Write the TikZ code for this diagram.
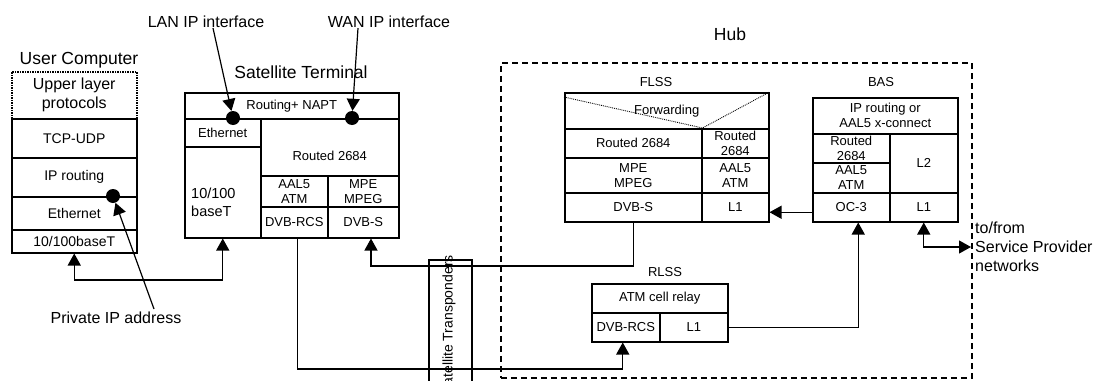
\documentclass[tikz,border=0pt]{standalone}
\usepackage{fontspec}
\setmainfont{Liberation Sans}
\usetikzlibrary{arrows.meta,positioning}

\begin{document}
\begin{tikzpicture}[
  x=1pt,y=-1pt,
  cell/.style={draw,line width=1.5pt,anchor=north west,inner sep=0pt,align=center,font=\fontsize{13}{15}\selectfont},
  big/.style={inner sep=0pt,font=\fontsize{17.5}{20}\selectfont},
  mid/.style={inner sep=0pt,align=left,font=\fontsize{16}{19}\selectfont},
  sml/.style={inner sep=0pt,font=\fontsize{13}{15}\selectfont},
  dot/.style={circle,fill,inner sep=0pt,minimum size=14pt},
  arr/.style={line width=1.2pt,-{Triangle[length=12pt,width=13pt]}},
  arrs/.style={line width=1.2pt,{Triangle[length=12pt,width=13pt]}-{Triangle[length=12pt,width=13pt]}}
]
\useasboundingbox (0,0) rectangle (1105,380);
\clip (0,0) rectangle (1105,380);

% User Computer
\node[big] (uclbl) at (79,60) {User Computer};
\node[cell,densely dotted,minimum width=125pt,minimum height=47pt,font=\fontsize{16}{19}\selectfont] (ucup) at (11,71) {Upper layer\\protocols};
\node[cell,minimum width=125pt,minimum height=39pt,font=\fontsize{14}{16}\selectfont] (uctcp) at (11,118) {TCP-UDP};
\node[cell,minimum width=125pt,minimum height=39pt,font=\fontsize{14}{16}\selectfont] (ucip) at (11,157) {IP routing};
\node[cell,minimum width=125pt,minimum height=33pt,font=\fontsize{14}{16}\selectfont] (uceth) at (11,196) {Ethernet};
\node[cell,minimum width=125pt,minimum height=23pt,font=\fontsize{14}{16}\selectfont] (ucbase) at (11,229) {10/100baseT};
\node[dot] (ucdot) at (113,196) {};

% Satellite Terminal
\node[big] (stlbl) at (301,72) {Satellite Terminal};
\node[cell,minimum width=214pt,minimum height=26pt] (stnapt) at (184,92) {Routing+ NAPT};
\node[cell,minimum width=76pt,minimum height=28pt] (steth) at (184,118) {Ethernet};
\node[cell,minimum width=76pt,minimum height=91pt] (stbase) at (184,146) {};
\node[mid,font=\fontsize{14.5}{18}\selectfont,anchor=west] (stbasetxt) at (191,202) {10/100\\baseT};
\node[cell,minimum width=138pt,minimum height=57pt,text height=26pt] (strt) at (260,118) {Routed 2684};
\node[cell,minimum width=67pt,minimum height=31pt] (staal) at (260,175) {AAL5\\ATM};
\node[cell,minimum width=71pt,minimum height=31pt] (stmpe) at (327,175) {MPE\\MPEG};
\node[cell,minimum width=67pt,minimum height=31pt] (strcs) at (260,206) {DVB-RCS};
\node[cell,minimum width=71pt,minimum height=31pt] (stdvbs) at (327,206) {DVB-S};
\node[dot] (landot) at (233,118) {};
\node[dot] (wandot) at (352,118) {};

% interface labels
\node[mid] (lanlbl) at (206,22) {LAN IP interface};
\node[mid] (wanlbl) at (389,22) {WAN IP interface};
\node[mid] (privlbl) at (116,318) {Private IP address};
\coordinate (privtail) at (154,309);

% Hub
\node[big] (hublbl) at (730,34) {Hub};
\node[draw,line width=1.7pt,dash pattern=on 6pt off 4pt,anchor=north west,minimum width=471pt,minimum height=315pt] (hub) at (500,62) {};

% FLSS
\node[sml] (fllbl) at (656,82) {FLSS};
\node[cell,minimum width=204pt,minimum height=36pt] (flfwd) at (564,92) {Forwarding};
\node[cell,minimum width=137pt,minimum height=29pt] (flrta) at (564,128) {Routed 2684};
\node[cell,minimum width=67pt,minimum height=29pt] (flrtb) at (701,128) {Routed\\2684};
\node[cell,minimum width=137pt,minimum height=35pt] (flmpe) at (564,157) {MPE\\MPEG};
\node[cell,minimum width=67pt,minimum height=35pt] (flaal) at (701,157) {AAL5\\ATM};
\node[cell,minimum width=137pt,minimum height=29pt] (fldvbs) at (564,192) {DVB-S};
\node[cell,minimum width=67pt,minimum height=29pt] (fll1) at (701,192) {L1};
\draw[densely dotted,line width=0.9pt] ([yshift=-5pt]flfwd.north west) -- (flrta.north east) -- (flfwd.north east);

% BAS
\node[sml] (baslbl) at (881,82) {BAS};
\node[cell,minimum width=145pt,minimum height=36pt] (basip) at (812,97) {IP routing or\\AAL5 x-connect};
\node[cell,minimum width=77pt,minimum height=29pt] (basrt) at (812,133) {Routed\\2684};
\node[cell,minimum width=77pt,minimum height=30pt] (basaal) at (812,162) {AAL5\\ATM};
\node[cell,minimum width=68pt,minimum height=59pt] (basl2) at (889,133) {L2};
\node[cell,minimum width=77pt,minimum height=29pt] (basoc) at (812,192) {OC-3};
\node[cell,minimum width=68pt,minimum height=29pt] (basl1) at (889,192) {L1};
\node[mid,anchor=west] (splbl) at (975,247) {to/from\\Service Provider\\networks};
\coordinate (spnet) at (971,247);

% RLSS
\node[sml] (rllbl) at (665,272) {RLSS};
\node[cell,minimum width=136pt,minimum height=29pt] (rlatm) at (591,283) {ATM cell relay};
\node[cell,minimum width=68pt,minimum height=29pt] (rlrcs) at (591,312) {DVB-RCS};
\node[cell,minimum width=68pt,minimum height=29pt] (rll1) at (659,312) {L1};

% Satellite Transponders
\node[cell,minimum width=43pt,minimum height=140pt] (sattp) at (428,259) {};
\node[sml,font=\fontsize{14}{16}\selectfont,rotate=90,anchor=east] (sattplbl) at (449,255) {Satellite Transponders};

% links
\coordinate (lanbus) at (150,280);
\coordinate (fwdturn) at (371,266);
\coordinate (rtnturn) at (450,369);
\draw[arrs] (ucbase.south) |- (lanbus) -| (stbase.south);
\draw[arr] (privtail) -- (ucdot);
\draw[arr] ([xshift=7pt]lanlbl.south) -- (landot);
\draw[arr] ([xshift=-31pt]wanlbl.south) -- (wandot);
\draw[arr] (fldvbs.south) |- (fwdturn) -- (fwdturn |- stdvbs.south);
\draw[arr] ([xshift=3pt]strcs.south) |- (rtnturn) -| ([xshift=-3pt]rlrcs.south);
\draw[arr] (rll1.east) -| ([xshift=7pt]basoc.south);
\draw[arr] ([yshift=-5pt]basoc.west) -- ([yshift=-5pt]fll1.east);
\draw[arrs] (basl1.south) |- (spnet);
\end{tikzpicture}
\end{document}
